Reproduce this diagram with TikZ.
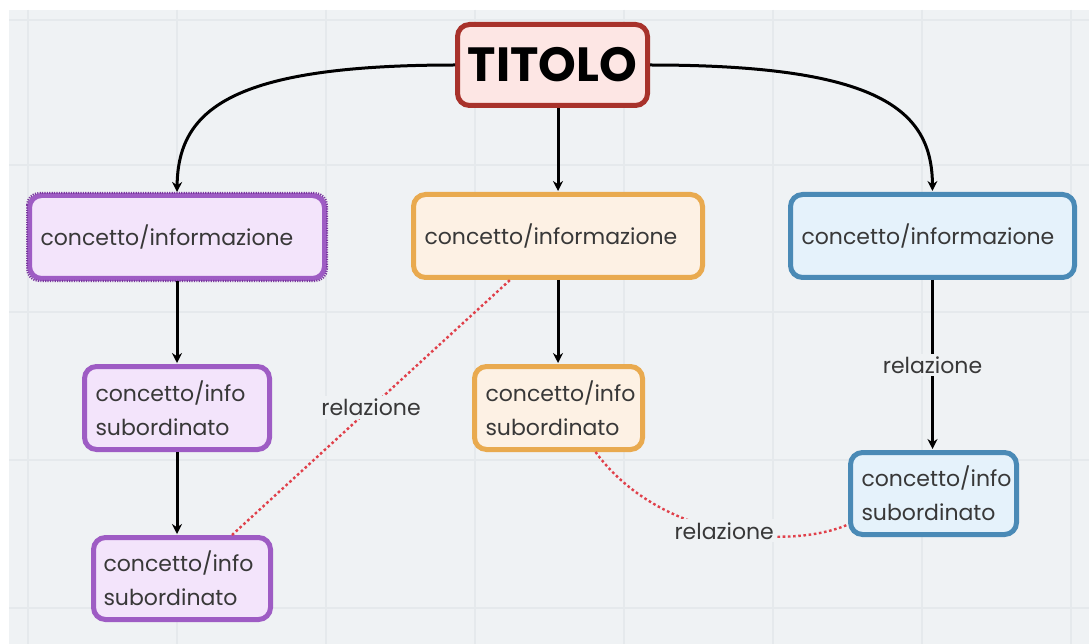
\documentclass[tikz,border=0pt]{standalone}
\usepackage{fontspec}
\setmainfont{Poppins}
\usetikzlibrary{calc,arrows.meta}
\definecolor{bgc}{HTML}{EFF2F4}
\definecolor{gridc}{HTML}{E5E9EC}
\definecolor{txt}{HTML}{383838}
\definecolor{redB}{HTML}{A8322B}
\definecolor{redF}{HTML}{FDE6E4}
\definecolor{purB}{HTML}{9E5CC4}
\definecolor{purD}{HTML}{7A3A9E}
\definecolor{purF}{HTML}{F3E4FB}
\definecolor{oraB}{HTML}{E9AA4F}
\definecolor{oraF}{HTML}{FDF1E4}
\definecolor{bluB}{HTML}{4A8AB6}
\definecolor{bluF}{HTML}{E5F2FB}
\definecolor{relc}{HTML}{E0404A}
\tikzset{
  box/.style={draw, rounded corners=12pt, line width=5pt, text=txt, inner ysep=0pt,
    inner xsep=11pt, font=\fontsize{22}{34}\selectfont, align=left},
  titlebox/.style={box, draw=redB, fill=redF, text=black, font=\fontsize{48}{50}\selectfont\bfseries,
    inner xsep=0pt, align=center, minimum width=190pt, minimum height=81pt},
  purbox/.style={box, draw=purB, fill=purF},
  orabox/.style={box, draw=oraB, fill=oraF},
  blubox/.style={box, draw=bluB, fill=bluF},
  arr/.style={draw=black, line width=3pt, -{Stealth[length=10pt,width=10pt]}, shorten >=1pt},
  rel/.style={draw=relc, line width=2.4pt, dash pattern=on 2.6pt off 2.6pt},
  lab/.style={fill=bgc, text=txt, font=\fontsize{22}{26}\selectfont, inner sep=3pt}
}
\begin{document}
\begin{tikzpicture}[x=1pt,y=-1pt]
\useasboundingbox (0,0) rectangle (1089,644);
\fill[white] (0,0) rectangle (1089,644);
\fill[bgc] (9,10) rectangle (1089,644);
\foreach \gx in {28,177,326,475,624,773,922,1071} \draw[gridc, line width=1.2pt] (\gx,10) -- (\gx,644);
\foreach \gy in {20,165,312,460,608} \draw[gridc, line width=1.2pt] (9,\gy) -- (1089,\gy);

\node[titlebox] (t) at (552.5,65) {TITOLO};
\node[purbox, text width=273pt, minimum height=83pt] (p1) at (177,237) {concetto/informazione};
\draw[purD, line width=2pt, dash pattern=on 1.2pt off 1.2pt, rounded corners=12pt]
  (p1.north west) rectangle (p1.south east);
\node[orabox, text width=267pt, minimum height=83pt] (o1) at (558,236) {concetto/informazione};
\node[blubox, text width=262pt, minimum height=83pt] (b1) at (932.5,236) {concetto/informazione};

\node[purbox, text width=163pt, minimum height=83pt] (p2) at (177,408) {concetto/info\\subordinato};
\node[purbox, text width=157pt, inner xsep=10pt, minimum height=82pt] (p3) at (182,578.5) {concetto/info\\subordinato};
\node[orabox, text width=146pt, minimum height=83pt] (o2) at (558.5,408) {concetto/info\\subordinato};
\node[blubox, text width=144pt, minimum height=82pt] (b2) at (933.5,493.5) {concetto/info\\subordinato};

% title connectors
\draw[arr] (t.west) .. controls (230,65) and (178,110) .. (p1.north);
\draw[arr] (t.east) .. controls (880,65) and (932,110) .. (b1.north);
\draw[arr] (t.south -| o1.north) -- (o1.north);
% vertical connectors
\draw[arr] (p1.south) -- (p2.north);
\draw[arr] (p2.south) -- (p2.south |- p3.north);
\draw[arr] (o1.south) -- (o1.south |- o2.north);
\draw[arr] (b1.south) -- node[lab]{relazione} (b1.south |- b2.north);

% relations
\draw[rel] ($(p3.north)+(50,0)$) -- node[lab, pos=0.5]{relazione} ($(o1.south)+(-48,0)$);
\draw[rel] ($(o2.south)+(37,0)$) .. controls (660,540) and (790,550) .. node[lab, pos=0.5]{relazione} ($(b2.west)+(0,31)$);
\end{tikzpicture}
\end{document}
